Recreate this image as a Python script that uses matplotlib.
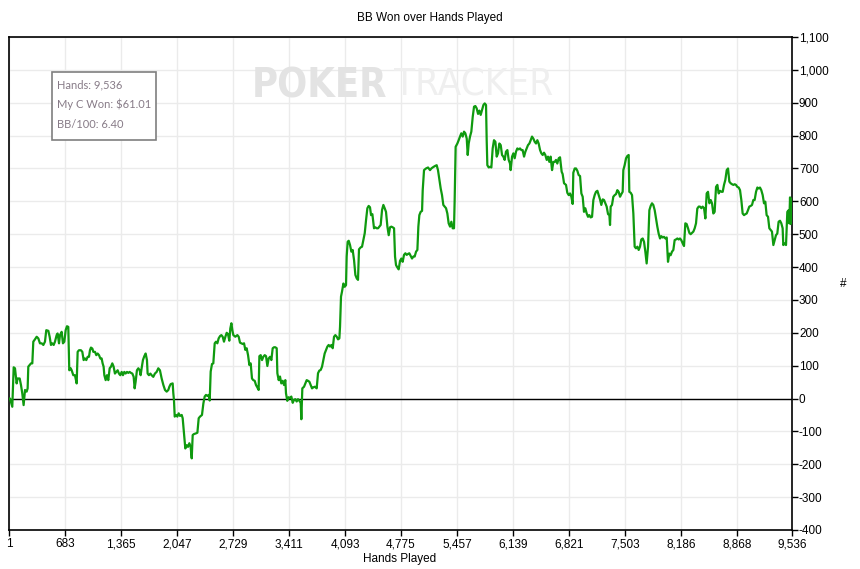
import matplotlib
matplotlib.use("Agg")
import matplotlib.pyplot as plt
from matplotlib.patches import Rectangle
from matplotlib import font_manager as fm

# ---- data (hands played, cumulative BB won) ----
hands = [1, 13, 41, 58, 74, 94, 106, 131, 147, 163, 179, 196, 216, 228, 236, 252, 269, 285, 297, 317,
         338, 358, 378, 399, 419, 439, 455, 480, 496, 512, 528, 545, 561, 581, 593, 610, 622, 642, 658, 675,
         691, 707, 723, 735, 752, 764, 784, 804, 825, 837, 853, 877, 894, 910, 926, 942, 959, 975, 987, 999,
         1016, 1028, 1048, 1064, 1080, 1097, 1113, 1129, 1141, 1153, 1162, 1178, 1194, 1210, 1227, 1243, 1259, 1275, 1291, 1308,
         1324, 1340, 1356, 1373, 1389, 1405, 1421, 1438, 1454, 1470, 1486, 1503, 1519, 1531, 1543, 1559, 1576, 1592, 1604, 1616,
         1632, 1649, 1665, 1681, 1689, 1705, 1722, 1738, 1758, 1778, 1799, 1819, 1839, 1860, 1881, 1901, 1921, 1941, 1954, 1970,
         1994, 2002, 2010, 2019, 2035, 2051, 2067, 2084, 2104, 2116, 2132, 2148, 2165, 2181, 2197, 2213, 2226, 2238, 2254, 2278,
         2295, 2311, 2327, 2351, 2368, 2384, 2400, 2416, 2433, 2445, 2457, 2473, 2489, 2506, 2522, 2538, 2554, 2571, 2587, 2603,
         2619, 2636, 2652, 2668, 2684, 2696, 2709, 2721, 2733, 2757, 2782, 2798, 2814, 2830, 2847, 2863, 2879, 2895, 2912, 2928,
         2944, 2960, 2976, 2993, 3009, 3025, 3041, 3050, 3066, 3082, 3098, 3115, 3131, 3147, 3163, 3180, 3196, 3212, 3228, 3244,
         3261, 3269, 3285, 3301, 3317, 3334, 3350, 3366, 3374, 3390, 3407, 3423, 3439, 3456, 3472, 3488, 3504, 3520, 3537, 3553,
         3561, 3573, 3594, 3610, 3626, 3642, 3659, 3675, 3691, 3707, 3727, 3748, 3764, 3780, 3797, 3813, 3829, 3845, 3862, 3878,
         3894, 3910, 3927, 3943, 3959, 3975, 3992, 4008, 4024, 4032, 4044, 4056, 4073, 4089, 4105, 4113, 4125, 4138, 4154, 4170,
         4186, 4203, 4219, 4235, 4251, 4263, 4284, 4300, 4316, 4333, 4349, 4365, 4381, 4397, 4410, 4426, 4446, 4462, 4479, 4495,
         4511, 4527, 4544, 4560, 4576, 4592, 4609, 4625, 4641, 4657, 4673, 4690, 4702, 4714, 4730, 4746, 4763, 4779, 4795, 4811,
         4828, 4844, 4860, 4876, 4893, 4909, 4925, 4941, 4958, 4974, 4986, 4998, 5014, 5031, 5039, 5055, 5079, 5104, 5128, 5144,
         5160, 5185, 5209, 5225, 5242, 5258, 5274, 5290, 5306, 5323, 5339, 5355, 5372, 5388, 5404, 5420, 5428, 5440, 5461, 5477,
         5493, 5509, 5526, 5542, 5558, 5575, 5587, 5599, 5615, 5631, 5648, 5664, 5680, 5696, 5713, 5729, 5745, 5762, 5778, 5794,
         5810, 5818, 5826, 5843, 5859, 5875, 5891, 5907, 5924, 5940, 5956, 5972, 5989, 6005, 6021, 6037, 6053, 6070, 6086, 6102,
         6110, 6127, 6143, 6159, 6175, 6191, 6208, 6224, 6240, 6256, 6273, 6289, 6305, 6321, 6338, 6354, 6370, 6386, 6403, 6419,
         6435, 6451, 6468, 6484, 6500, 6516, 6532, 6549, 6565, 6581, 6597, 6614, 6630, 6646, 6662, 6678, 6695, 6711, 6731, 6743,
         6760, 6784, 6800, 6817, 6833, 6849, 6865, 6873, 6890, 6906, 6922, 6938, 6955, 6971, 6987, 7003, 7019, 7036, 7052, 7068,
         7084, 7101, 7117, 7133, 7149, 7166, 7182, 7198, 7214, 7231, 7247, 7263, 7279, 7296, 7312, 7320, 7328, 7344, 7360, 7377,
         7393, 7409, 7425, 7442, 7458, 7474, 7482, 7498, 7515, 7531, 7547, 7555, 7572, 7588, 7604, 7620, 7636, 7653, 7669, 7685,
         7701, 7718, 7734, 7750, 7766, 7783, 7799, 7815, 7831, 7847, 7864, 7880, 7896, 7912, 7929, 7945, 7961, 7977, 7994, 8010,
         8026, 8042, 8058, 8075, 8091, 8107, 8123, 8140, 8156, 8172, 8188, 8205, 8221, 8237, 8253, 8270, 8286, 8302, 8318, 8335,
         8351, 8367, 8383, 8400, 8416, 8432, 8448, 8465, 8481, 8497, 8513, 8530, 8546, 8562, 8578, 8594, 8611, 8627, 8643, 8659,
         8676, 8692, 8708, 8724, 8741, 8757, 8773, 8789, 8806, 8822, 8838, 8854, 8870, 8887, 8903, 8919, 8935, 8952, 8968, 8984,
         9000, 9016, 9033, 9049, 9065, 9081, 9098, 9114, 9130, 9146, 9162, 9179, 9195, 9211, 9227, 9244, 9260, 9276, 9292, 9309,
         9325, 9341, 9357, 9373, 9390, 9406, 9422, 9430, 9447, 9463, 9479, 9495, 9503, 9512, 9520, 9528, 9536]

bb_won = [0, 0, -25, 95, 92, 46, 61, 61, 41, 15, -20, 26, 21, 31, 97, 102, 107, 107, 173, 180,
          188, 183, 168, 168, 163, 173, 208, 206, 188, 163, 168, 163, 173, 193, 198, 168, 193, 203, 168, 173,
          208, 220, 218, 86, 92, 86, 71, 71, 46, 142, 147, 147, 142, 117, 122, 117, 127, 127, 147, 155,
          152, 142, 142, 132, 137, 132, 122, 122, 107, 97, 71, 56, 71, 56, 92, 97, 107, 97, 76, 81,
          86, 76, 71, 81, 71, 81, 76, 81, 78, 81, 78, 76, 66, 31, 51, 86, 92, 86, 71, 92,
          117, 129, 137, 117, 76, 71, 76, 71, 66, 76, 81, 92, 86, 61, 41, 26, 21, 26, 36, 44,
          46, 16, -5, -55, -50, -55, -45, -53, -50, -60, -106, -152, -142, -147, -136, -147, -182, -111, -108, -106,
          -104, -60, -55, -50, -15, 6, 11, 8, 11, -6, 82, 105, 107, 168, 173, 168, 183, 190, 193, 188,
          173, 188, 200, 196, 176, 213, 229, 208, 193, 188, 193, 188, 170, 168, 166, 168, 148, 153, 132, 102,
          107, 61, 56, 54, 41, 34, 26, 129, 132, 117, 127, 132, 129, 99, 122, 127, 117, 153, 156, 156,
          153, 77, 56, 67, 46, 54, 41, 56, 16, -7, 4, 1, 6, -13, -4, -2, -9, -2, -7, -13,
          -63, 31, 36, 46, 56, 54, 51, 41, 31, 34, 36, 31, 77, 85, 87, 97, 117, 137, 148, 158,
          163, 158, 163, 153, 188, 193, 188, 180, 183, 218, 310, 325, 350, 340, 345, 432, 477, 480, 467, 447,
          452, 421, 376, 366, 361, 454, 460, 462, 482, 503, 543, 579, 586, 582, 558, 561, 518, 521, 518, 518,
          523, 528, 574, 589, 579, 568, 523, 497, 521, 523, 521, 518, 432, 406, 399, 393, 419, 426, 416, 437,
          442, 437, 440, 442, 434, 426, 432, 432, 447, 452, 523, 558, 568, 571, 634, 695, 700, 703, 695, 700,
          703, 707, 710, 695, 665, 639, 619, 589, 584, 579, 563, 533, 523, 538, 518, 518, 604, 766, 776, 786,
          797, 807, 797, 812, 807, 791, 741, 776, 797, 812, 857, 888, 890, 883, 866, 876, 863, 878, 893, 898,
          893, 786, 710, 703, 705, 703, 761, 786, 781, 736, 746, 776, 771, 741, 736, 726, 751, 756, 726, 715,
          695, 736, 746, 731, 751, 761, 758, 761, 756, 756, 736, 751, 761, 771, 776, 786, 797, 791, 781, 776,
          786, 776, 756, 746, 741, 748, 741, 726, 736, 720, 736, 695, 720, 720, 726, 715, 731, 734, 690, 683,
          655, 650, 626, 619, 624, 614, 592, 687, 700, 700, 693, 680, 677, 624, 614, 568, 579, 563, 553, 558,
          551, 553, 604, 619, 629, 632, 619, 606, 589, 606, 604, 594, 584, 561, 558, 528, 584, 589, 614, 619,
          622, 634, 629, 614, 622, 629, 695, 710, 731, 738, 741, 629, 626, 619, 563, 462, 457, 462, 452, 462,
          484, 487, 477, 447, 411, 462, 573, 586, 594, 589, 573, 548, 523, 502, 487, 494, 490, 492, 487, 490,
          416, 441, 436, 447, 452, 482, 484, 487, 484, 487, 482, 472, 464, 533, 531, 518, 504, 500, 504, 508,
          518, 533, 578, 584, 584, 579, 584, 579, 548, 624, 629, 594, 604, 594, 563, 568, 644, 650, 624, 632,
          629, 629, 650, 665, 695, 700, 660, 655, 652, 650, 652, 650, 644, 642, 634, 604, 563, 558, 561, 563,
          573, 584, 586, 589, 604, 604, 629, 642, 639, 642, 634, 619, 594, 599, 558, 553, 518, 513, 508, 467,
          482, 497, 502, 538, 541, 533, 518, 467, 472, 467, 568, 573, 533, 612, 531, 604, 607]

x_ticks = [1, 683, 1365, 2047, 2729, 3411, 4093, 4775, 5457, 6139, 6821, 7503, 8186, 8868, 9536]
y_ticks = list(range(-400, 1101, 100))

title = "BB Won over Hands Played"
x_label = "Hands Played"
y_label = "#"
info_lines = ["Hands: 9,536", "My C Won: $61.01", "BB/100: 6.40"]
watermark = ["POKER", "TRACKER"]

# ---- figure ----
W, H = 860, 569
fig = plt.figure(figsize=(W / 100, H / 100), dpi=100)
fig.patch.set_facecolor("white")
ax = fig.add_axes([9 / W, 1 - 530 / H, (792 - 9) / W, (530 - 37) / H])

font = "Liberation Sans"

ax.set_xlim(1, 9536)
ax.set_ylim(-400, 1100)
ax.set_xticks(x_ticks)
ax.set_xticklabels([f"{t:,}" for t in x_ticks], fontsize=8.5, family=font)
ax.set_yticks(y_ticks)
ax.set_yticklabels([f"{t:,}" for t in y_ticks], fontsize=8.5, family=font)
ax.yaxis.tick_right()
ax.tick_params(axis="both", direction="out", length=4, width=1, colors="black")
ax.tick_params(axis="x", pad=2)
ax.tick_params(axis="y", pad=1)

ax.grid(True, color="#ebebeb", linewidth=1)
ax.set_axisbelow(True)
for s in ax.spines.values():
    s.set_color("black")
    s.set_linewidth(1.2)

ax.axhline(0, color="black", linewidth=1, zorder=2)
ax.plot(hands, bb_won, color="#0f9a0f", linewidth=1.6, zorder=3, solid_joinstyle="round")


# ---- watermark: pick a condensed face if one is installed ----
def pick_font(bold):
    best = None
    for f in fm.fontManager.ttflist:
        nm = f.name.lower()
        st = str(f.stretch).lower()
        narrow = ("narrow" in nm or "condensed" in nm or "condensed" in st
                  or (isinstance(f.stretch, int) and f.stretch < 500))
        if not narrow:
            continue
        if "semi" in nm or "semi" in st:
            continue
        w = f.weight if isinstance(f.weight, int) else (700 if "bold" in str(f.weight).lower() else 400)
        if f.style != "normal":
            continue
        if bold and w >= 600:
            return fm.FontProperties(fname=f.fname)
        if not bold and 350 <= w < 600 and best is None:
            best = fm.FontProperties(fname=f.fname)
    if best is not None:
        return best
    return fm.FontProperties(family="Liberation Sans", weight="bold" if bold else "normal")


renderer = fig.canvas.get_renderer()
targets = [(252, 387, "#e3e3e3", True), (394, 553, "#efefef", False)]
for word, (x0, x1, col, bold) in zip(watermark, targets):
    fp = pick_font(bold)
    t = fig.text(x0 / W, 1 - 86 / H, word, fontproperties=fp, color=col,
                 ha="left", va="center", zorder=1)
    t.set_fontsize(30)
    wpx = t.get_window_extent(renderer).width
    size = 30 * (x1 - x0) / wpx
    t.set_fontsize(min(size, 31))

# ---- info box ----
box = Rectangle((52 / W, 1 - 140 / H), (155.5 - 52) / W, (140 - 72) / H, transform=fig.transFigure,
                facecolor="white", edgecolor="#7f7f7f", linewidth=1.2, zorder=5)
fig.add_artist(box)
info_texts = []
for i, line in enumerate(info_lines):
    t = fig.text(57 / W, 1 - (84.5 + 20 * i) / H, line, fontsize=9, family="Lato",
                 color="#877b87", ha="left", va="center", zorder=6)
    info_texts.append(t)
# fit the widest line inside the box (about 94 px wide in the reference)
widest = max(t.get_window_extent(renderer).width for t in info_texts)
scale = min(1.0, 94 / widest)
for t in info_texts:
    t.set_fontsize(9 * scale)

fig.text(430 / W, 1 - 18 / H, title, fontsize=8.5, family=font, ha="center", va="center")
fig.text(400 / W, 1 - 559 / H, x_label, fontsize=8.5, family=font, ha="center", va="center")
fig.text(843 / W, 1 - 284 / H, y_label, fontsize=8.5, family=font, ha="center", va="center")

fig.savefig("out.png", dpi=100, facecolor="white")
